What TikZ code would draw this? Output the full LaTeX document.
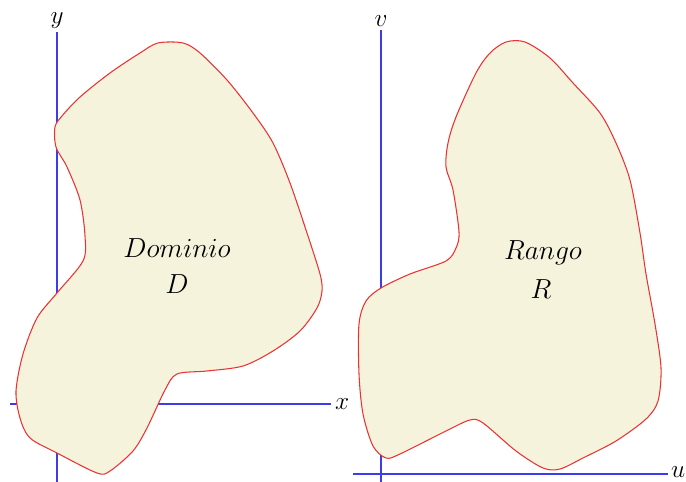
\documentclass[tikz,border=0pt]{standalone}
\usetikzlibrary{calc}
\definecolor{regionfill}{RGB}{245,243,220}
\definecolor{axisblue}{RGB}{60,60,235}
\definecolor{edgered}{RGB}{235,50,50}
\begin{document}
\begin{tikzpicture}[x=0.02cm,y=-0.02cm,
  axis/.style={draw=axisblue,line width=1.1pt},
  region/.style={draw=edgered,line width=0.6pt,fill=regionfill},
  axislabel/.style={font=\fontsize{14}{16}\selectfont,inner sep=1pt},
  regionlabel/.style={font=\fontsize{14.4}{17}\selectfont,inner sep=0pt,scale=1.09}]
\useasboundingbox (0,0) rectangle (686,482);
% axes (left)
\coordinate (yTop) at (57,32);
\coordinate (yBot) at (57,482);
\coordinate (xLeft) at (10,404);
\coordinate (xRight) at (331,404);
\draw[axis] (yTop) -- (yBot);
\draw[axis] (xLeft) -- (xRight);
\node[axislabel,anchor=west] (xlab) at (333,404) {$x$};
\node[axislabel,anchor=south] (ylab) at (57,31) {$y$};
% axes (right)
\coordinate (vTop) at (381,30);
\coordinate (vBot) at (381,482);
\coordinate (uLeft) at (353,474);
\coordinate (uRight) at (668,474);
\draw[axis] (vTop) -- (vBot);
\draw[axis] (uLeft) -- (uRight);
\node[axislabel,anchor=west] (ulab) at (669,472) {$u$};
\node[axislabel,anchor=south] (vlab) at (381,29) {$v$};
% domain D
\draw[region] plot[smooth cycle,tension=0.5] coordinates {
 (158,43) (183,43) (200,53) (227,80) (253,113) (273,143) (290,183) (307,233)
 (320,274) (322,291) (317,308) (300,331) (273,351) (243,366) (207,371)
 (177,374) (165,390) (147,428) (133,451) (110,471) (97,473) (57,453)
 (30,438) (20,418) (16,391) (23,354) (37,318) (57,293) (83,261)
 (85,236) (80,200) (67,167) (56,147) (55,127) (62,116) (80,97) (110,73) (140,53)};
% range R
\draw[region] plot[smooth cycle,tension=0.5] coordinates {
 (506,42) (525,42) (550,58) (573,83) (600,113) (616,143) (630,180) (640,233)
 (646,274) (655,324) (661,368) (658,401) (646,419) (616,441) (583,458) (560,469)
 (543,468) (516,451) (483,423) (470,420) (446,431) (400,454) (386,458) (373,446)
 (363,414) (359,374) (359,324) (366,301) (381,288) (410,274) (446,261) (456,248)
 (459,232) (453,190) (446,167) (448,143) (456,117) (476,73) (490,53)};
\node[regionlabel] (dom) at (177,248) {$Dominio$};
\node[regionlabel] (dlab) at (177,284) {$D$};
\node[regionlabel] (ran) at (543,253) {$Rango$};
\node[regionlabel] (rlab) at (541,289) {$R$};
\end{tikzpicture}
\end{document}
